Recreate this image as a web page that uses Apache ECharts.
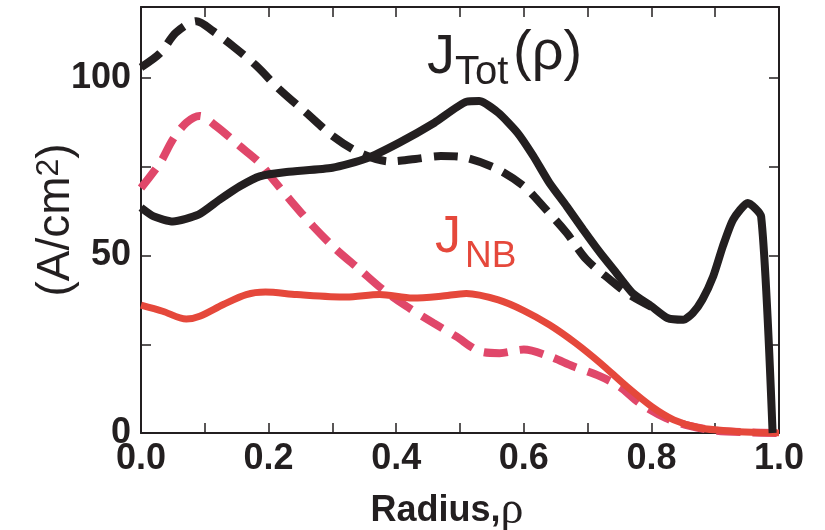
<!DOCTYPE html>
<html>
<head>
<meta charset="utf-8">
<script src="https://cdn.jsdelivr.net/npm/echarts@6/dist/echarts.min.js"></script>
<style>
html,body{margin:0;padding:0;background:#fff;}
#chart{width:825px;height:530px;}
</style>
</head>
<body>
<div id="chart"></div>
<script>
// J_Tot (solid black)
var totSolidX = [0, 0.02, 0.05, 0.09, 0.123, 0.155, 0.186, 0.228, 0.3, 0.353, 0.405, 0.46, 0.51, 0.53, 0.56, 0.59, 0.615, 0.64, 0.667, 0.693, 0.72, 0.745, 0.77, 0.8, 0.825, 0.85, 0.865, 0.88, 0.897, 0.912, 0.928, 0.951, 0.972, 0.99];
var totSolidY = [63.5, 61, 59.6, 61.5, 65.7, 69.5, 72.3, 73.5, 74.7, 77.3, 81.8, 87.4, 93.3, 93.5, 90.2, 84.6, 78, 70.5, 63.9, 57.3, 50.7, 45.1, 39.5, 35.7, 32.4, 31.9, 33.8, 37.6, 44.2, 52.6, 60.1, 64.8, 61, 0];
// J_Tot (dashed black)
var totDashX = [0, 0.03, 0.055, 0.087, 0.113, 0.144, 0.181, 0.217, 0.259, 0.301, 0.343, 0.39, 0.43, 0.47, 0.51, 0.56, 0.6, 0.63, 0.667, 0.698, 0.735, 0.765, 0.8];
var totDashY = [103, 107, 112.8, 116, 113.2, 109, 103.4, 96.8, 90.2, 83.6, 78.9, 76.5, 77.2, 78, 77.5, 74.2, 69.5, 63.9, 56.4, 48.9, 43.2, 39, 35.5];
// J_NB (dashed pink)
var nbDashX = [0, 0.03, 0.05, 0.071, 0.092, 0.118, 0.155, 0.186, 0.207, 0.233, 0.27, 0.306, 0.343, 0.379, 0.416, 0.458, 0.494, 0.531, 0.562, 0.6, 0.64, 0.677, 0.719, 0.75, 0.781, 0.823, 0.86, 0.9, 0.95, 1.0];
var nbDashY = [69, 76.1, 82.7, 87.4, 89.3, 86.4, 80.8, 76.1, 71.4, 65.8, 58.2, 51.7, 46, 40.4, 35.7, 31, 27.2, 23, 22.5, 23.5, 21.6, 18.8, 16, 13.1, 8.5, 4.2, 2, 0.7, 0.2, 0];
// J_NB (solid red)
var nbSolidX = [0, 0.034, 0.071, 0.092, 0.129, 0.165, 0.195, 0.244, 0.322, 0.374, 0.426, 0.47, 0.51, 0.56, 0.6, 0.64, 0.68, 0.72, 0.76, 0.8, 0.835, 0.876, 0.928, 0.97, 1.0];
var nbSolidY = [36, 34.3, 32.1, 32.9, 36.2, 39, 39.7, 39, 38.3, 39, 38, 38.5, 39.3, 37.5, 34.5, 30.5, 25.5, 19.7, 13.3, 7.5, 3.7, 1.4, 0.5, 0.1, 0];

var xLabels = ['0.0', '0.2', '0.4', '0.6', '0.8', '1.0'];
var yLabels = ['0', '50', '100'];

function pairs(xs, ys) { return xs.map(function (x, i) { return [x, ys[i]]; }); }

var INK = '#231f20';
var RED = '#e5483b';
var PINK = '#e0476a';
var SANS = '"Liberation Sans", Arial, Helvetica, sans-serif';

var chart = echarts.init(document.getElementById('chart'), null, {renderer: 'canvas'});

var tickStyle = {show: true, inside: true, length: 10, lineStyle: {color: INK, width: 1.5}};
var lineAx = {show: true, onZero: false, lineStyle: {color: INK, width: 2}};

chart.setOption({
  animation: false,
  backgroundColor: '#fff',
  grid: {left: 141, right: 46, top: 7, bottom: 97, containLabel: false, outerBoundsMode: 'none'},
  xAxis: [{
    type: 'value', min: 0, max: 1, interval: 0.1, position: 'bottom',
    axisLine: lineAx, axisTick: tickStyle, splitLine: {show: false},
    axisLabel: {
      margin: 8, color: INK, fontSize: 36, fontWeight: 'bold', fontFamily: SANS,
      formatter: function (v) {
        var k = Math.round(v * 10);
        return k % 2 === 0 ? xLabels[k / 2] : '';
      }
    },
    name: '{b|Radius,}{r|ρ}', nameLocation: 'middle', nameGap: 55, nameMoveOverlap: false,
    nameTextStyle: {
      padding: [0, 26, 0, 0],
      rich: {
        b: {fontSize: 36, fontWeight: 'bold', fontFamily: SANS, color: INK},
        r: {fontSize: 46, fontFamily: '"Liberation Serif", "Times New Roman", serif', color: INK}
      }
    }
  }, {
    type: 'value', min: 0, max: 1, interval: 0.1, position: 'top',
    axisLine: lineAx, axisTick: tickStyle, axisLabel: {show: false}, splitLine: {show: false}
  }],
  yAxis: [{
    type: 'value', min: 0, max: 120, interval: 25, position: 'left',
    axisLine: lineAx, axisTick: tickStyle, splitLine: {show: false},
    axisLabel: {
      margin: 10, color: INK, fontSize: 36, fontWeight: 'bold', fontFamily: SANS,
      formatter: function (v) {
        var i = yLabels.indexOf(String(v));
        return i >= 0 ? yLabels[i] : '';
      }
    },
    name: '{a|(A/cm}{s|2}{a|)}', nameLocation: 'middle', nameRotate: 90, nameGap: 62, nameMoveOverlap: false,
    nameTextStyle: {
      rich: {
        a: {fontSize: 46, fontFamily: SANS, color: INK},
        s: {fontSize: 32, fontFamily: SANS, color: INK, verticalAlign: 'top', padding: [0, 0, 14, 0]}
      }
    }
  }, {
    type: 'value', min: 0, max: 120, interval: 25, position: 'right',
    axisLine: lineAx, axisTick: tickStyle, axisLabel: {show: false}, splitLine: {show: false}
  }],
  series: [{
    type: 'line', data: pairs(nbDashX, nbDashY), showSymbol: false, smooth: 0.3,
    lineStyle: {color: PINK, width: 8, type: [24, 12], cap: 'butt'}
  }, {
    type: 'line', data: pairs(totDashX, totDashY), showSymbol: false, smooth: 0.3,
    lineStyle: {color: INK, width: 8, type: [24, 12], cap: 'butt'}
  }, {
    type: 'line', data: pairs(nbSolidX, nbSolidY), showSymbol: false, smooth: 0.3,
    lineStyle: {color: RED, width: 7}
  }, {
    type: 'line', data: pairs(totSolidX, totSolidY), showSymbol: false, smooth: 0.2,
    lineStyle: {color: INK, width: 8}
  }],
  graphic: [
    {type: 'text', left: 427, top: 30, style: {text: 'J', font: '56px ' + SANS, fill: INK}},
    {type: 'text', left: 455, top: 53, style: {text: 'Tot', font: '40px ' + SANS, fill: INK}},
    {type: 'text', left: 513, top: 26, style: {text: '(ρ)', font: '56px ' + SANS, fill: INK}},
    {type: 'text', left: 435, top: 212, style: {text: 'J', font: '52px ' + SANS, fill: RED}},
    {type: 'text', left: 465, top: 238, style: {text: 'NB', font: '37px ' + SANS, fill: RED}}
  ]
});
</script>
</body>
</html>
